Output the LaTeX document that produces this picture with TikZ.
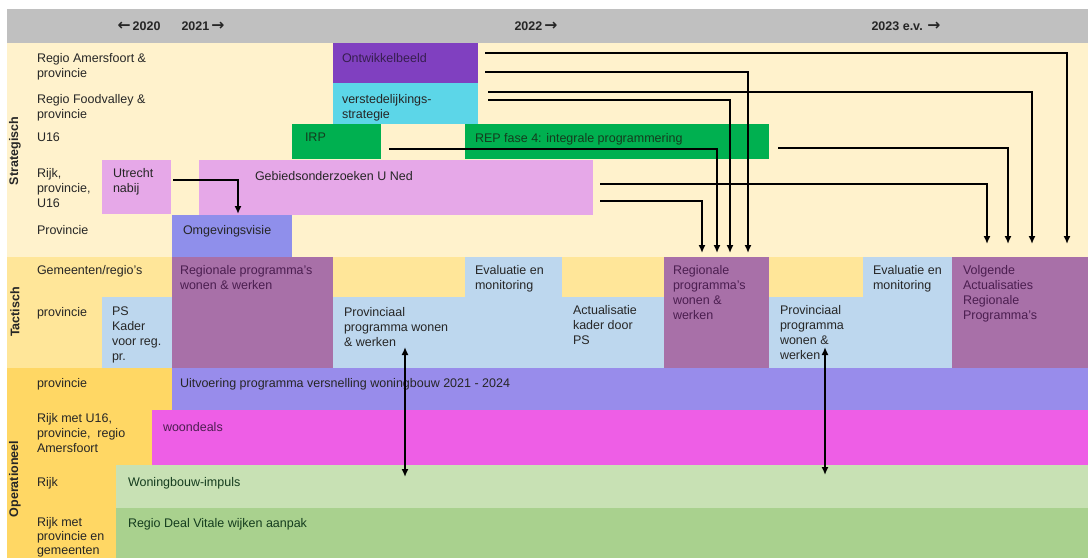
\documentclass[tikz,border=0pt]{standalone}
\usepackage{fontspec}
\setmainfont{Liberation Sans}
\newfontfamily\arrfont[Scale=1.25]{DejaVu Sans}
\usetikzlibrary{calc,arrows.meta}
\definecolor{hdr}{RGB}{192,192,192}
\definecolor{cream}{RGB}{255,242,204}
\definecolor{tact}{RGB}{255,230,153}
\definecolor{oper}{RGB}{255,215,100}
\definecolor{purp}{RGB}{128,64,192}
\definecolor{cyanb}{RGB}{92,214,232}
\definecolor{greenb}{RGB}{0,176,80}
\definecolor{lilac}{RGB}{230,168,232}
\definecolor{peri}{RGB}{143,143,235}
\definecolor{mauve}{RGB}{168,112,168}
\definecolor{lblue}{RGB}{189,215,238}
\definecolor{uitv}{RGB}{152,140,235}
\definecolor{magb}{RGB}{238,94,230}
\definecolor{lgreen}{RGB}{200,225,180}
\definecolor{mgreen}{RGB}{169,209,142}
\definecolor{txt}{RGB}{38,38,38}
\definecolor{txtp}{RGB}{55,30,80}
\definecolor{txtm}{RGB}{75,30,80}
\definecolor{txtg}{RGB}{20,60,30}
\newcommand{\la}{{\arrfont\bfseries ←}}
\newcommand{\ra}{{\arrfont\bfseries →}}
\begin{document}
\begin{tikzpicture}[x=1pt,y=-1pt,
  box/.style={draw=none,inner sep=0pt,outer sep=0pt,anchor=north west},
  lbl/.style={anchor=north west,inner sep=0pt,outer sep=0pt,align=left,
    font=\fontsize{12.5}{15}\selectfont,text=txt},
  hd/.style={inner sep=0pt,font=\fontsize{12.5}{15}\selectfont\bfseries,text=txt},
  sec/.style={inner sep=0pt,rotate=90,font=\fontsize{12.5}{15}\selectfont\bfseries,text=txt},
  arr/.style={line width=1.9pt,-{Latex[length=8pt,width=7pt]}},
  darr/.style={line width=1.9pt,{Latex[length=8pt,width=7pt]}-{Latex[length=8pt,width=7pt]}}]
\useasboundingbox (0,0) rectangle (1088,558);
\fill[white] (0,0) rectangle (1088,558);
% backgrounds
\fill[hdr] (7,9) rectangle (1088,43);
\fill[cream] (7,43) rectangle (1088,257);
\fill[tact] (7,257) rectangle (1088,368);
\fill[oper] (7,368) rectangle (1088,558);
% header
\node[hd] (h20) at (139,26) {\la\,2020};
\node[hd] (h21) at (203,26) {2021\,\ra};
\node[hd] (h22) at (536,26) {2022\,\ra};
\node[hd] (h23) at (906,26) {2023 e.v. \ra};
% section labels
\node[sec] (sstr) at (15,151) {Strategisch};
\node[sec] (stac) at (15,312) {Tactisch};
\node[sec] (sope) at (15,479) {Operationeel};
% row labels
\node[lbl] (r1) at (37,53) {Regio Amersfoort \&\\provincie};
\node[lbl] (r2) at (37,94) {Regio Foodvalley \&\\provincie};
\node[lbl] (r3) at (37,133) {U16};
\node[lbl] (r4) at (37,168) {Rijk,\\provincie,\\U16};
\node[lbl] (r5) at (37,225) {Provincie};
\node[lbl] (r6) at (37,265) {Gemeenten/regio's};
\node[lbl] (r7) at (37,307) {provincie};
\node[lbl] (r8) at (37,378) {provincie};
\node[lbl] (r9) at (37,413) {Rijk met U16,\\provincie,\ \ regio\\Amersfoort};
\node[lbl] (r10) at (37,477) {Rijk};
\node[lbl,font=\fontsize{12.5}{14}\selectfont] (r11) at (37,517) {Rijk met\\provincie en\\gemeenten};
% strategic boxes
\node[box,fill=purp,minimum width=145,minimum height=40] (ontw) at (333,43) {};
\node[box,fill=cyanb,minimum width=145,minimum height=41] (verst) at (333,83) {};
\node[box,fill=greenb,minimum width=89,minimum height=35] (irp) at (292,124) {};
\node[box,fill=greenb,minimum width=304,minimum height=35] (rep) at (465,124) {};
\node[box,fill=lilac,minimum width=69,minimum height=54] (utr) at (102,160) {};
\node[box,fill=lilac,minimum width=394,minimum height=55] (gebied) at (199,160) {};
\node[box,fill=peri,minimum width=120,minimum height=42] (omg) at (172,215) {};
% tactical boxes
\node[box,fill=mauve,minimum width=161,minimum height=111] (reg1) at (172,257) {};
\node[box,fill=lblue,minimum width=70,minimum height=71] (ps) at (102,297) {};
\node[box,fill=lblue,minimum width=133,minimum height=71] (prov1) at (333,297) {};
\node[box,fill=lblue,minimum width=97,minimum height=111] (eval1) at (465,257) {};
\node[box,fill=lblue,minimum width=103,minimum height=71] (act) at (561,297) {};
\node[box,fill=mauve,minimum width=105,minimum height=111] (reg2) at (664,257) {};
\node[box,fill=lblue,minimum width=184,minimum height=71] (prov2) at (769,297) {};
\node[box,fill=lblue,minimum width=89,minimum height=111] (eval2) at (863,257) {};
\node[box,fill=mauve,minimum width=136,minimum height=111] (volg) at (952,257) {};
% operational boxes
\node[box,fill=uitv,minimum width=916,minimum height=42] (uitvb) at (172,368) {};
\node[box,fill=magb,minimum width=936,minimum height=55] (woond) at (152,410) {};
\node[box,fill=lgreen,minimum width=972,minimum height=43] (wbi) at (116,465) {};
\node[box,fill=mgreen,minimum width=972,minimum height=50] (deal) at (116,508) {};
% box texts
\node[lbl,text=txtp] (tontw) at (342,53) {Ontwikkelbeeld};
\node[lbl] (tverst) at (342,94) {verstedelijkings-\\strategie};
\node[lbl,text=txtg] (tirp) at (305,133) {IRP};
\node[lbl,text=txtg] (trep) at (475,133) {REP fase 4: integrale programmering};
\node[lbl] (tutr) at (113,168) {Utrecht\\nabij};
\node[lbl] (tgeb) at (255,171) {Gebiedsonderzoeken U Ned};
\node[lbl] (tomg) at (183,225) {Omgevingsvisie};
\node[lbl,text=txtm] (treg1) at (180,265) {Regionale programma's\\wonen \& werken};
\node[lbl] (tps) at (112,307) {PS\\Kader\\voor reg.\\pr.};
\node[lbl] (tprov1) at (344,307) {Provinciaal\\programma wonen\\\& werken};
\node[lbl] (teval1) at (475,265) {Evaluatie en\\monitoring};
\node[lbl] (tact) at (573,305) {Actualisatie\\kader door\\PS};
\node[lbl,text=txtm] (treg2) at (673,265) {Regionale\\programma's\\wonen \&\\werken};
\node[lbl] (tprov2) at (780,305) {Provinciaal\\programma\\wonen \&\\werken};
\node[lbl] (teval2) at (873,265) {Evaluatie en\\monitoring};
\node[lbl,text=txtm] (tvolg) at (963,265) {Volgende\\Actualisaties\\Regionale\\Programma's};
\node[lbl] (tuitv) at (180,378) {Uitvoering programma versnelling woningbouw 2021 - 2024};
\node[lbl,text=txtm] (twoond) at (163,422) {woondeals};
\node[lbl,text=txtg] (twbi) at (128,477) {Woningbouw-impuls};
\node[lbl,text=txtg] (tdeal) at (128,518) {Regio Deal Vitale wijken aanpak};
% connector end points
\coordinate (su) at ($(utr.north east)+(2,20)$);
\coordinate (tu) at ($(omg.north west)+(66,-1)$);
\coordinate (s1) at ($(ontw.north east)+(7,10)$);
\coordinate (t1) at ($(volg.north west)+(115,-13)$);
\coordinate (s2) at ($(ontw.north east)+(7,29)$);
\coordinate (t2) at ($(reg2.north west)+(84,-4)$);
\coordinate (s3) at ($(verst.north east)+(10,9)$);
\coordinate (t3) at ($(volg.north west)+(80,-13)$);
\coordinate (s4) at ($(verst.north east)+(10,17)$);
\coordinate (t4) at ($(reg2.north west)+(66,-4)$);
\coordinate (s5) at ($(irp.north east)+(8,25)$);
\coordinate (t5) at ($(reg2.north west)+(53,-4)$);
\coordinate (s6) at ($(rep.north east)+(9,24)$);
\coordinate (t6) at ($(volg.north west)+(56,-13)$);
\coordinate (s7) at ($(gebied.north east)+(7,24)$);
\coordinate (t7) at ($(volg.north west)+(35,-13)$);
\coordinate (s8) at ($(gebied.north east)+(7,41)$);
\coordinate (t8) at ($(reg2.north west)+(38,-4)$);
\coordinate (d1a) at ($(prov1.north west)+(72,50)$);
\coordinate (d1b) at ($(wbi.north west)+(289,12)$);
\coordinate (d2a) at ($(prov2.north west)+(56,50)$);
\coordinate (d2b) at ($(wbi.north west)+(709,10)$);
% connectors
\draw[arr] (su) -| (tu);
\draw[arr] (s1) -| (t1);
\draw[arr] (s2) -| (t2);
\draw[arr] (s3) -| (t3);
\draw[arr] (s4) -| (t4);
\draw[arr] (s5) -| (t5);
\draw[arr] (s6) -| (t6);
\draw[arr] (s7) -| (t7);
\draw[arr] (s8) -| (t8);
\draw[darr] (d1a) -- (d1b);
\draw[darr] (d2a) -- (d2b);
\end{tikzpicture}
\end{document}
